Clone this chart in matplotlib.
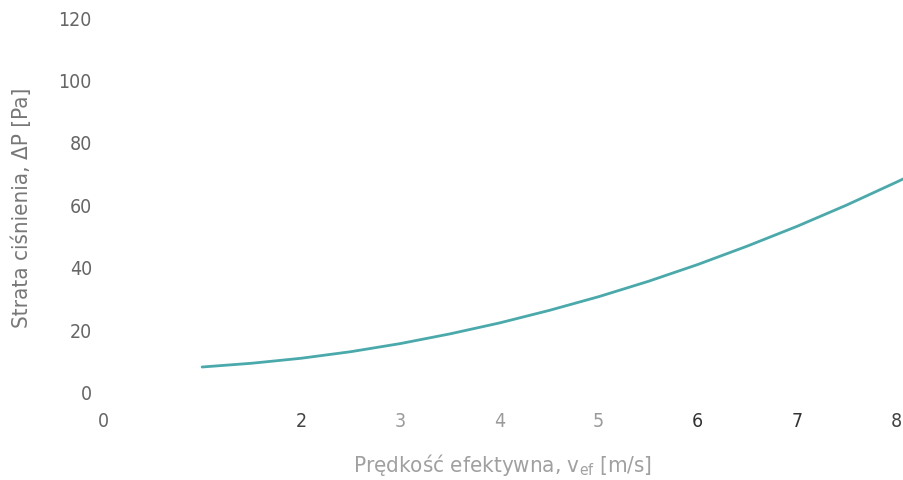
import matplotlib
matplotlib.use("Agg")
import matplotlib.pyplot as plt

# effective velocity [m/s] and pressure loss [Pa]
velocity = [1.0, 1.5, 2.0, 2.5, 3.0, 3.5, 4.0, 4.5, 5.0, 5.5, 6.0, 6.5, 7.0, 7.5, 8.0, 8.08]
pressure = [8.0, 9.2, 10.8, 12.9, 15.5, 18.6, 22.1, 26.1, 30.5, 35.4, 40.8, 46.7, 53.0, 59.8, 67.1, 68.3]

x_ticks = [0, 2, 3, 4, 5, 6, 7, 8]
x_tick_colours = ['#666666', '#444444', '#9a9a9a', '#9a9a9a', '#9a9a9a', '#333333', '#333333', '#444444']
y_ticks = [0, 20, 40, 60, 80, 100, 120]

plt.rcParams['font.family'] = ['DejaVu Sans']
plt.rcParams['font.stretch'] = 'condensed'

fig = plt.figure(figsize=(9.04, 4.81), dpi=100)
ax = fig.add_axes([103 / 904., 1 - 393 / 481., 1 - 103 / 904., (393 - 18) / 481.])

ax.plot(velocity, pressure, color='#4aa9ab', lw=2.0, solid_capstyle='round')

ax.set_xlim(0, 8.08)
ax.set_ylim(0, 120)
ax.set_xticks(x_ticks)
ax.set_xticklabels([str(t) for t in x_ticks], fontsize=14)
for lab, col in zip(ax.get_xticklabels(), x_tick_colours):
    lab.set_color(col)
ax.set_yticks(y_ticks)
ax.set_yticklabels([str(t) for t in y_ticks], fontsize=14, color='#666666')
ax.tick_params(axis='both', length=0)
ax.tick_params(axis='x', pad=14)
ax.tick_params(axis='y', pad=8)

for s in ax.spines.values():
    s.set_visible(False)

fig.text(503 / 904., 1 - 465 / 481., u'Prędkość efektywna, v$_{\\mathregular{ef}}$ [m/s]',
         ha='center', va='center', fontsize=16, color='#a0a0a0')
fig.text(22 / 904., 1 - 208 / 481., u'Strata ciśnienia, ΔP [Pa]',
         ha='center', va='center', rotation=90, fontsize=16, color='#777777')

fig.savefig('out.png', dpi=100)
